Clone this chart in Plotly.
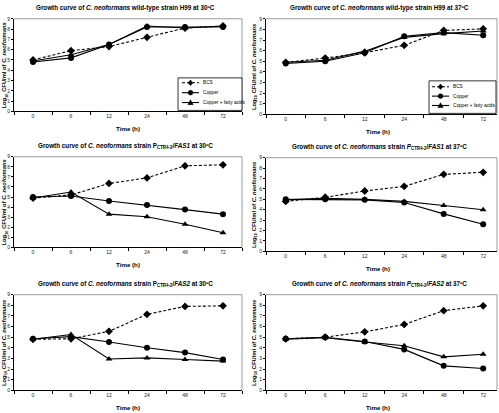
import plotly.graph_objects as go

W, H = 499, 413

times = ["0", "6", "12", "24", "48", "72"]
yticks = [0, 1, 2, 3, 4, 5, 6, 7, 8, 9]

# panel data (log10 CFU/ml)
bcs_h99_30 = [5.0, 5.9, 6.3, 7.2, 8.1, 8.3]
cu_h99_30 = [4.8, 5.2, 6.5, 8.2, 8.2, 8.2]
fa_h99_30 = [4.9, 5.5, 6.5, 8.3, 8.1, 8.3]

bcs_h99_37 = [4.9, 5.3, 5.8, 6.5, 7.9, 8.05]
cu_h99_37 = [4.8, 5.0, 5.8, 7.35, 7.7, 7.45]
fa_h99_37 = [4.9, 5.1, 5.95, 7.25, 7.6, 7.85]

bcs_fas1_30 = [4.9, 5.2, 6.35, 6.9, 8.1, 8.2]
cu_fas1_30 = [5.0, 5.1, 4.6, 4.2, 3.75, 3.3]
fa_fas1_30 = [4.9, 5.5, 3.3, 3.05, 2.3, 1.45]

bcs_fas1_37 = [4.8, 5.2, 5.8, 6.25, 7.4, 7.6]
cu_fas1_37 = [5.0, 5.0, 4.95, 4.7, 3.6, 2.6]
fa_fas1_37 = [4.95, 5.1, 5.0, 4.8, 4.4, 4.0]

bcs_fas2_30 = [4.8, 4.85, 5.55, 7.15, 7.9, 7.95]
cu_fas2_30 = [4.85, 5.05, 4.55, 4.0, 3.55, 2.9]
fa_fas2_30 = [4.8, 5.25, 2.95, 3.05, 2.9, 2.75]

bcs_fas2_37 = [4.85, 5.0, 5.5, 6.2, 7.5, 7.95]
cu_fas2_37 = [4.85, 5.0, 4.6, 3.85, 2.3, 2.05]
fa_fas2_37 = [4.8, 4.95, 4.55, 4.2, 3.15, 3.4]

series_names = ["BCS", "Copper", "Copper + fatty acids"]

CN = "<i>C. neoformans</i>"
PC = "<i>P</i><sub>CTR4-2</sub>"
titles = [
    f"Growth curve of {CN} wild-type strain H99 at 30ºC",
    f"Growth curve of {CN} wild-type strain H99 at 37ºC",
    f"Growth curve of {CN} strain P<sub>CTR4-2</sub>/<i>FAS1</i> at 30ºC",
    f"Growth curve of {CN} strain {PC}/<i>FAS1</i> at 37ºC",
    f"Growth curve of {CN} strain P<sub>CTR4-2</sub>/<i>FAS2</i> at 30ºC",
    f"Growth curve of {CN} strain {PC}/<i>FAS2</i> at 37ºC",
]
ytitle = f"Log<sub>10</sub> CFU/ml of {CN}"
xtitle = "Time (h)"

panels = [
    (bcs_h99_30, cu_h99_30, fa_h99_30),
    (bcs_h99_37, cu_h99_37, fa_h99_37),
    (bcs_fas1_30, cu_fas1_30, fa_fas1_30),
    (bcs_fas1_37, cu_fas1_37, fa_fas1_37),
    (bcs_fas2_30, cu_fas2_30, fa_fas2_30),
    (bcs_fas2_37, cu_fas2_37, fa_fas2_37),
]

# plot-area boxes in pixels: x0, x1, ytop, ybottom
boxes = [
    (14, 242, 16, 110),
    (266, 497, 16, 113),
    (14, 242, 156, 248),
    (266, 497, 157, 252),
    (14, 242, 296, 393),
    (266, 497, 296, 393),
]

FONT = "Liberation Sans Narrow, Arial Narrow, Liberation Sans, Arial"
DASH = "3px,2px"


def fx(x):
    return x / W


def fy(y):
    return 1 - y / H


fig = go.Figure()
styles = [
    dict(dash=DASH, symbol="diamond"),
    dict(dash="solid", symbol="circle"),
    dict(dash="solid", symbol="triangle-up"),
]

shapes = []
annotations = []
layout_axes = {}

for i, (vals, box, title) in enumerate(zip(panels, boxes, titles)):
    n = i + 1
    xa = "x" if n == 1 else f"x{n}"
    ya = "y" if n == 1 else f"y{n}"
    xkey = "xaxis" if n == 1 else f"xaxis{n}"
    ykey = "yaxis" if n == 1 else f"yaxis{n}"
    x0, x1, yt, yb = box
    right = (n % 2 == 0)
    for v, st, name in zip(vals, styles, series_names):
        fig.add_trace(go.Scatter(
            x=times, y=v, xaxis=xa, yaxis=ya, mode="lines+markers", name=name,
            showlegend=False,
            line=dict(color="black", width=1.1, dash=st["dash"]),
            marker=dict(symbol=st["symbol"], size=6, color="black"),
            cliponaxis=False,
        ))
    layout_axes[xkey] = dict(
        domain=[fx(x0), fx(x1)], anchor=ya, type="category",
        categoryorder="array", categoryarray=times,
        range=[-0.5, 5.35] if right else [-0.5, 5.5],
        showline=True, linecolor="black", linewidth=1,
        ticks="outside", ticklen=3, tickcolor="black", tickson="boundaries",
        tickfont=dict(size=5, family=FONT, color="#222"),
        showgrid=False, zeroline=False, fixedrange=True,
    )
    layout_axes[ykey] = dict(
        domain=[fy(yb), fy(yt)], anchor=xa, range=[0, 9],
        tickvals=yticks, ticks="outside", ticklen=2, tickcolor="black",
        showline=True, linecolor="black", linewidth=1,
        tickfont=dict(size=5, family=FONT, color="#222"),
        showgrid=False, zeroline=False, fixedrange=True,
    )
    # light frame on top and right
    shapes.append(dict(type="line", xref="paper", yref="paper",
                       x0=fx(x0), x1=fx(x1), y0=fy(yt), y1=fy(yt),
                       line=dict(color="#9a9a9a", width=1)))
    shapes.append(dict(type="line", xref="paper", yref="paper",
                       x0=fx(x1), x1=fx(x1), y0=fy(yt), y1=fy(yb),
                       line=dict(color="#9a9a9a", width=1)))
    # title
    cx = 126 if not right else 379
    annotations.append(dict(
        text=title, xref="paper", yref="paper",
        x=fx(cx), y=fy(yt - 11), xanchor="center", yanchor="middle",
        showarrow=False,
        font=dict(size=6.3, family=FONT, color="black", weight="bold")))
    # x title
    annotations.append(dict(
        text=xtitle, xref="paper", yref="paper",
        x=fx(128 if not right else 378), y=fy(yb + 17), xanchor="center",
        yanchor="middle", showarrow=False,
        font=dict(size=6.2, family=FONT, color="black", weight="bold")))
    # y title
    annotations.append(dict(
        text=ytitle, xref="paper", yref="paper",
        x=fx(4.5 if not right else 254.5), y=fy((yt + yb) / 2),
        xanchor="center", yanchor="middle", textangle=-90, showarrow=False,
        font=dict(size=5.8, family=FONT, color="black", weight="bold")))


def marker_path(sym, cx, cy, r=2.4):
    if sym == "diamond":
        pts = [(cx, cy - r * 1.2), (cx + r, cy), (cx, cy + r * 1.2), (cx - r, cy)]
    else:
        pts = [(cx, cy - r * 1.2), (cx + r * 1.1, cy + r * 0.9), (cx - r * 1.1, cy + r * 0.9)]
    return "M " + " L ".join(f"{fx(px)},{fy(py)}" for px, py in pts) + " Z"


def add_legend(bx0, bx1, by0, by1, rows, lx0, lx1, tx):
    shapes.append(dict(type="rect", xref="paper", yref="paper",
                       x0=fx(bx0), x1=fx(bx1), y0=fy(by1), y1=fy(by0),
                       line=dict(color="black", width=0.8), fillcolor="white"))
    for ry, st, name in zip(rows, styles, series_names):
        shapes.append(dict(type="line", xref="paper", yref="paper",
                           x0=fx(lx0), x1=fx(lx1), y0=fy(ry), y1=fy(ry),
                           line=dict(color="black", width=1.1, dash=st["dash"])))
        cx = (lx0 + lx1) / 2
        if st["symbol"] == "circle":
            r = 2.4
            shapes.append(dict(type="circle", xref="paper", yref="paper",
                               x0=fx(cx - r), x1=fx(cx + r), y0=fy(ry + r), y1=fy(ry - r),
                               line=dict(color="black", width=0.5), fillcolor="black"))
        else:
            shapes.append(dict(type="path", xref="paper", yref="paper",
                               path=marker_path(st["symbol"], cx, ry),
                               line=dict(color="black", width=0.5), fillcolor="black"))
        annotations.append(dict(
            text=name, xref="paper", yref="paper", x=fx(tx), y=fy(ry),
            xanchor="left", yanchor="middle", showarrow=False,
            font=dict(size=4.7, family=FONT, color="black")))


add_legend(178, 242, 76, 109, [81, 91, 101], 182, 199, 201)
add_legend(429, 496, 79, 112, [85, 94.5, 104], 432, 449, 451)

fig.update_layout(
    width=W, height=H, margin=dict(l=0, r=0, t=0, b=0),
    paper_bgcolor="white", plot_bgcolor="white",
    shapes=shapes, annotations=annotations, showlegend=False,
    **layout_axes,
)

fig.write_html(
    "out.html",
    config={"displayModeBar": False},
    post_script="document.body.style.margin='0';document.body.style.padding='0';document.body.style.overflow='hidden';",
)
